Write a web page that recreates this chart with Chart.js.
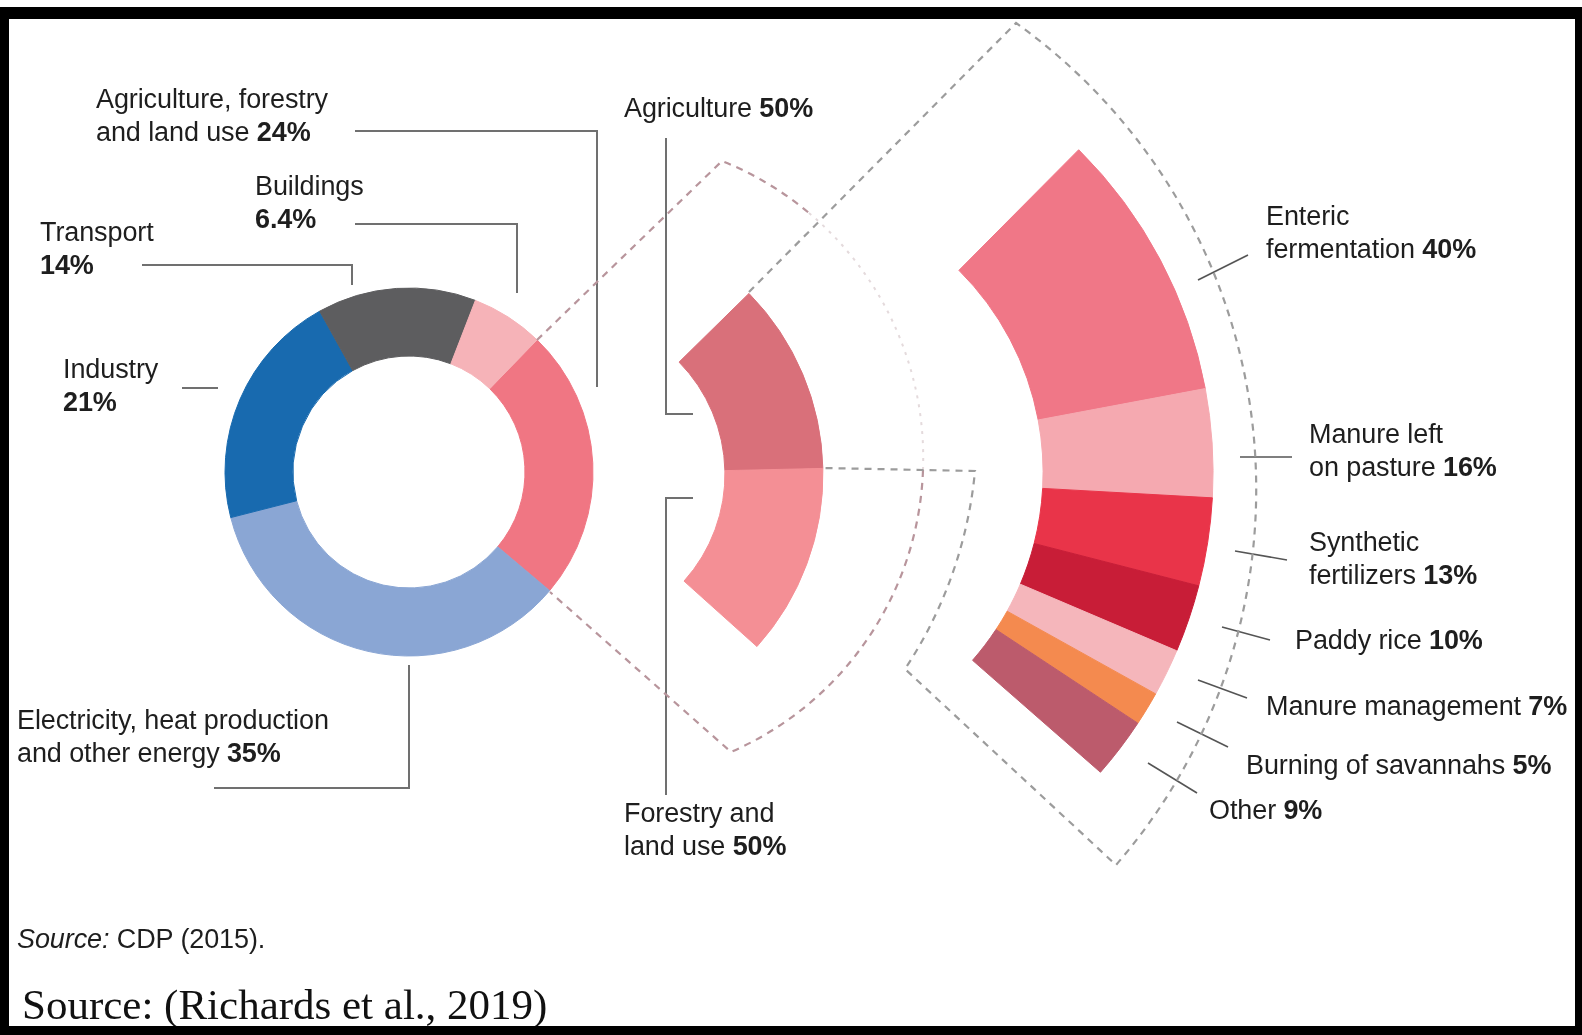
<!DOCTYPE html>
<html>
<head>
<meta charset="utf-8">
<script src="https://cdn.jsdelivr.net/npm/chart.js@4.4.1/dist/chart.umd.min.js"></script>
<style>
  html, body { margin: 0; padding: 0; background: #fff; overflow: hidden; }
  body { width: 1582px; height: 1035px; position: relative; font-family: "Liberation Sans", Arial, sans-serif; color: #1e1e1e; }
  .frame { position: absolute; left: 0; top: 7px; width: 1582px; height: 1028px; box-sizing: border-box;
           border-style: solid; border-color: #000; border-width: 12px 7px 9px 9px; z-index: 5; }
  canvas.ring { position: absolute; z-index: 1; }
  svg.overlay { position: absolute; left: 0; top: 0; z-index: 2; }
  .lbl { position: absolute; font-size: 27px; line-height: 33px; white-space: nowrap; letter-spacing: -0.1px; z-index: 3; }
  .lbl b { font-weight: bold; }
  .src { position: absolute; left: 17px; top: 924px; font-size: 27px; letter-spacing: -0.1px; z-index: 3; }
  .ref { position: absolute; left: 22px; top: 980px; font-family: "Liberation Serif", "Times New Roman", serif; font-size: 43px; color: #111; z-index: 3; }
</style>
</head>
<body>
<div class="frame"></div>

<canvas id="sectorRing" class="ring" width="400" height="400"></canvas>
<canvas id="afoluRing" class="ring" width="600" height="600"></canvas>
<canvas id="agriRing" class="ring" width="1000" height="1000"></canvas>

<svg class="overlay" width="1582" height="1035">
  <!-- leader lines for the left and middle rings -->
  <g fill="none" stroke="#707070" stroke-width="2">
    <polyline points="355,131 597,131 597,387"/>
    <polyline points="355,224 517,224 517,293"/>
    <polyline points="142,265 352,265 352,285"/>
    <polyline points="182,388 218,388"/>
    <polyline points="409,665 409,788 214,788"/>
    <polyline points="666,138 666,414 693,414"/>
    <polyline points="693,498 666,498 666,795"/>
  </g>
  <!-- ticks for the agriculture breakdown -->
  <g fill="none" stroke="#555" stroke-width="1.6">
    <line x1="1198" y1="280" x2="1248" y2="255"/>
    <line x1="1240" y1="457" x2="1292" y2="457"/>
    <line x1="1235" y1="551" x2="1287" y2="560"/>
    <line x1="1222" y1="627" x2="1270" y2="640"/>
    <line x1="1198" y1="680" x2="1247" y2="698"/>
    <line x1="1177" y1="722" x2="1228" y2="747"/>
    <line x1="1148" y1="763" x2="1197" y2="793"/>
  </g>
  <!-- zoom outline: donut slice -> middle ring -->
  <g fill="none" stroke="#b8959c" stroke-width="2.2" stroke-dasharray="7 6">
    <path d="M537,340 L722,161 A320,320 0 0 1 809,213"/>
    <path d="M923,470 A320,320 0 0 1 731,752 L550,592"/>
  </g>
  <path d="M809,213 A320,320 0 0 1 923,470" fill="none" stroke="#e4dadc" stroke-width="2" stroke-dasharray="3 6"/>
  <!-- zoom outline: middle ring -> agriculture ring -->
  <path d="M749,292 L1016,23 A573,573 0 0 1 1116,865 L905,669 A432,432 0 0 0 975,471 L823,468"
        fill="none" stroke="#9c9c9c" stroke-width="2.2" stroke-dasharray="7 6"/>
</svg>

<div class="lbl" style="left:96px; top:83px;">Agriculture, forestry<br>and land use <b>24%</b></div>
<div class="lbl" style="left:255px; top:170px;">Buildings<br><b>6.4%</b></div>
<div class="lbl" style="left:40px; top:216px;">Transport<br><b>14%</b></div>
<div class="lbl" style="left:63px; top:353px;">Industry<br><b>21%</b></div>
<div class="lbl" style="left:17px; top:704px;">Electricity, heat production<br>and other energy <b>35%</b></div>
<div class="lbl" style="left:624px; top:92px;">Agriculture <b>50%</b></div>
<div class="lbl" style="left:624px; top:797px;">Forestry and<br>land use <b>50%</b></div>
<div class="lbl" style="left:1266px; top:200px;">Enteric<br>fermentation <b>40%</b></div>
<div class="lbl" style="left:1309px; top:418px;">Manure left<br>on pasture <b>16%</b></div>
<div class="lbl" style="left:1309px; top:526px;">Synthetic<br>fertilizers <b>13%</b></div>
<div class="lbl" style="left:1295px; top:624px;">Paddy rice <b>10%</b></div>
<div class="lbl" style="left:1266px; top:690px;">Manure management <b>7%</b></div>
<div class="lbl" style="left:1246px; top:749px;">Burning of savannahs <b>5%</b></div>
<div class="lbl" style="left:1209px; top:794px;">Other <b>9%</b></div>

<div class="src"><i>Source:</i> CDP (2015).</div>
<div class="ref">Source: (Richards et al., 2019)</div>

<script>
// Global emissions by sector (%)
const sectorLabels = ['Agriculture, forestry and land use', 'Electricity, heat production and other energy', 'Industry', 'Transport', 'Buildings'];
const sectorShares = [24, 35, 21, 14, 6.4];
const sectorColors = ['#f07683', '#8aa6d4', '#186aaf', '#5d5d5f', '#f6b3b8'];

// Split of agriculture, forestry and land use (%)
const afoluLabels = ['Agriculture', 'Forestry and land use'];
const afoluShares = [50, 50];
const afoluColors = ['#d9707a', '#f48f95'];

// Split of agriculture emissions (%)
const agriLabels = ['Enteric fermentation', 'Manure left on pasture', 'Synthetic fertilizers', 'Paddy rice', 'Manure management', 'Burning of savannahs', 'Other'];
const agriShares = [40, 16, 13, 10, 7, 5, 9];
const agriColors = ['#f07787', '#f5a9b0', '#e93449', '#c81d37', '#f5b6bb', '#f48a4f', '#bc5b6c'];

// builds one ring and moves its canvas so the ring centre lands on (cx, cy)
function ring(canvasId, labels, values, colors, cx, cy, outer, inner, startDeg, sweepDeg) {
    const canvas = document.getElementById(canvasId);
    const chart = new Chart(canvas, {
        type: 'doughnut',
        data: {
            labels: labels,
            datasets: [{ data: values, backgroundColor: colors, borderColor: colors, borderWidth: 1 }]
        },
        options: {
            responsive: false,
            animation: false,
            events: [],
            radius: outer,
            cutout: (inner / outer * 100) + '%',
            rotation: startDeg + 90,
            circumference: sweepDeg,
            plugins: { legend: { display: false }, tooltip: { enabled: false } }
        }
    });
    const arc = chart.getDatasetMeta(0).data[0];
    canvas.style.left = (cx - arc.x) + 'px';
    canvas.style.top = (cy - arc.y) + 'px';
    return chart;
}

ring('sectorRing', sectorLabels, sectorShares, sectorColors, 409, 472, 184, 116, -45.9, 360);
ring('afoluRing', afoluLabels, afoluShares, afoluColors, 565, 474, 258, 160, -44.5, 86.4);
ring('agriRing', agriLabels, agriShares, agriColors, 758, 473, 455, 285, -45.2, 86.4);
</script>
</body>
</html>
